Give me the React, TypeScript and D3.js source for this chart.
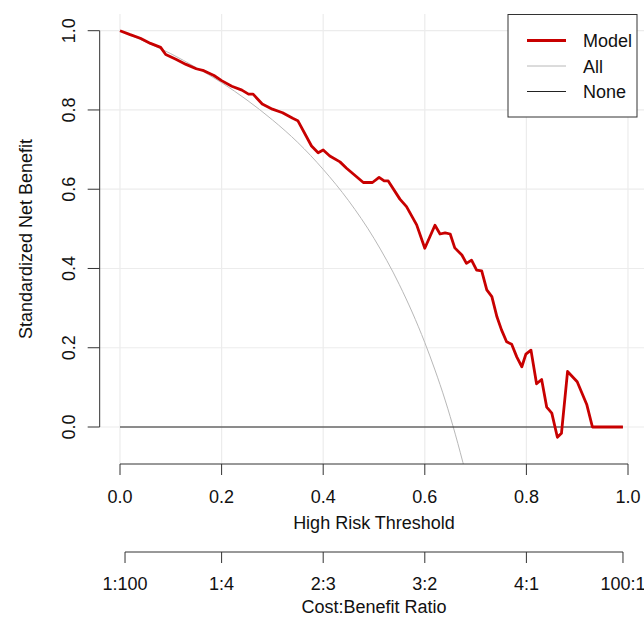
import React from "react";
import * as d3 from "d3";

// Model (standardized net benefit vs. threshold)
const modelThreshold = [
  0.0, 0.02, 0.04, 0.06, 0.08, 0.09, 0.11, 0.13, 0.15, 0.165, 0.185, 0.2, 0.22, 0.24, 0.253, 0.262,
  0.28, 0.3, 0.32, 0.34, 0.35, 0.377, 0.39, 0.4, 0.413, 0.433, 0.446, 0.479, 0.497, 0.51, 0.52,
  0.528, 0.551, 0.564, 0.584, 0.6, 0.62, 0.63, 0.64, 0.65, 0.659, 0.673, 0.682, 0.692, 0.702,
  0.712, 0.722, 0.732, 0.742, 0.751, 0.761, 0.771, 0.781, 0.791, 0.799, 0.809, 0.82, 0.83, 0.84,
  0.85, 0.861, 0.869, 0.881, 0.9, 0.919, 0.93, 0.99,
];
const modelBenefit = [
  1.0, 0.99, 0.981, 0.968, 0.958, 0.94, 0.928, 0.915, 0.904, 0.899, 0.887, 0.874, 0.86, 0.85, 0.84,
  0.84, 0.815, 0.802, 0.793, 0.779, 0.773, 0.709, 0.692, 0.699, 0.684, 0.669, 0.653, 0.617, 0.617,
  0.63, 0.621, 0.621, 0.575, 0.556, 0.51, 0.451, 0.509, 0.487, 0.49, 0.487, 0.452, 0.434, 0.413,
  0.421, 0.396, 0.394, 0.346, 0.329, 0.278, 0.245, 0.215, 0.209, 0.177, 0.152, 0.184, 0.194, 0.109,
  0.12, 0.05, 0.035, -0.026, -0.016, 0.14, 0.114, 0.056, 0.0, 0.0,
];

// "All" (treat all) curve
const allThreshold = [
  0.0, 0.05, 0.1, 0.15, 0.2, 0.25, 0.3, 0.35, 0.4, 0.45, 0.5, 0.55, 0.6, 0.62, 0.64, 0.66, 0.68,
];
const allBenefit = [
  1.0, 0.972, 0.942, 0.907, 0.869, 0.825, 0.775, 0.718, 0.65, 0.571, 0.476, 0.359, 0.213, 0.144,
  0.068, -0.018, -0.114,
];

// "None" (treat none)
const noneThreshold = [0.0, 0.99];
const noneBenefit = [0.0, 0.0];

const xTicks = [0, 0.2, 0.4, 0.6, 0.8, 1.0];
const xTickLabels = ["0.0", "0.2", "0.4", "0.6", "0.8", "1.0"];
const yTicks = [0, 0.2, 0.4, 0.6, 0.8, 1.0];
const yTickLabels = ["0.0", "0.2", "0.4", "0.6", "0.8", "1.0"];
const costTicks = [1 / 101, 0.2, 0.4, 0.6, 0.8, 100 / 101];
const costTickLabels = ["1:100", "1:4", "2:3", "3:2", "4:1", "100:1"];

const legendLabels = ["Model", "All", "None"];

const W = 644;
const H = 618;
const FONT = "'Liberation Sans', Arial, Helvetica, sans-serif";
const RED = "#c80000";
const AXIS = "#333";
const GRID = "#ececec";

export default function App() {
  const x = d3.scaleLinear().domain([0, 1]).range([120, 628]);
  const y = d3.scaleLinear().domain([0, 1]).range([427, 30.7]);
  const plotLeft = x(-0.04);
  const plotRight = x(1.04);
  const plotTop = y(1.042);
  const plotBottom = y(-0.0934);

  const line = d3
    .line<[number, number]>()
    .x((d) => x(d[0]))
    .y((d) => y(d[1]));
  const allLine = d3
    .line<[number, number]>()
    .x((d) => x(d[0]))
    .y((d) => y(d[1]))
    .curve(d3.curveMonotoneX);

  const modelPts = modelThreshold.map((t, i) => [t, modelBenefit[i]] as [number, number]);
  const allPts = allThreshold.map((t, i) => [t, allBenefit[i]] as [number, number]);
  const nonePts = noneThreshold.map((t, i) => [t, noneBenefit[i]] as [number, number]);

  const axis2Y = 552;

  const legend = { x0: 508, y0: 14.5, x1: 637, y1: 117 };
  const legendRows = [40.5, 66, 91.5];

  return (
    <svg
      width={W}
      height={H}
      viewBox={`0 0 ${W} ${H}`}
      style={{ position: "absolute", left: 0, top: 0, background: "#fff" }}
      fontFamily={FONT}
    >
      <defs>
        <clipPath id="plotClip">
          <rect x={plotLeft} y={plotTop} width={plotRight - plotLeft} height={plotBottom - plotTop} />
        </clipPath>
      </defs>
      <rect x={0} y={0} width={W} height={H} fill="#fff" />

      {/* grid */}
      <g clipPath="url(#plotClip)">
        {xTicks.map((t) => (
          <line key={"gx" + t} x1={x(t)} x2={x(t)} y1={plotTop} y2={plotBottom} stroke={GRID} strokeWidth={1.2} />
        ))}
        {yTicks.map((t) => (
          <line key={"gy" + t} x1={plotLeft} x2={plotRight} y1={y(t)} y2={y(t)} stroke={GRID} strokeWidth={1.2} />
        ))}
      </g>

      {/* series */}
      <g clipPath="url(#plotClip)">
        <path d={allLine(allPts) || ""} fill="none" stroke="#b8b8b8" strokeWidth={1} />
        <path d={line(nonePts) || ""} fill="none" stroke="#222" strokeWidth={1} />
        <path d={line(modelPts) || ""} fill="none" stroke={RED} strokeWidth={2.8} strokeLinejoin="round" />
      </g>

      {/* y axis */}
      <line x1={plotLeft} x2={plotLeft} y1={y(0)} y2={y(1)} stroke={AXIS} strokeWidth={1} />
      {yTicks.map((t, i) => (
        <g key={"yt" + t}>
          <line x1={plotLeft - 12} x2={plotLeft} y1={y(t)} y2={y(t)} stroke={AXIS} strokeWidth={1} />
          <text
            transform={`translate(75,${y(t)}) rotate(-90)`}
            textAnchor="middle"
            fontSize={18}
            fill="#111"
          >
            {yTickLabels[i]}
          </text>
        </g>
      ))}
      <text
        transform={`translate(32,${(plotTop + plotBottom) / 2}) rotate(-90)`}
        textAnchor="middle"
        fontSize={18}
        fill="#111"
      >
        Standardized Net Benefit
      </text>

      {/* x axis */}
      <line x1={x(0)} x2={x(1)} y1={plotBottom} y2={plotBottom} stroke={AXIS} strokeWidth={1} />
      {xTicks.map((t, i) => (
        <g key={"xt" + t}>
          <line x1={x(t)} x2={x(t)} y1={plotBottom} y2={plotBottom + 11} stroke={AXIS} strokeWidth={1} />
          <text x={x(t)} y={503} textAnchor="middle" fontSize={18} fill="#111">
            {xTickLabels[i]}
          </text>
        </g>
      ))}
      <text x={(plotLeft + plotRight) / 2} y={529} textAnchor="middle" fontSize={18} fill="#111">
        High Risk Threshold
      </text>

      {/* cost:benefit axis */}
      <line x1={x(costTicks[0])} x2={x(costTicks[costTicks.length - 1])} y1={axis2Y} y2={axis2Y} stroke={AXIS} strokeWidth={1} />
      {costTicks.map((t, i) => (
        <g key={"ct" + i}>
          <line x1={x(t)} x2={x(t)} y1={axis2Y} y2={axis2Y + 11} stroke={AXIS} strokeWidth={1} />
          <text x={x(t)} y={590} textAnchor="middle" fontSize={18} fill="#111">
            {costTickLabels[i]}
          </text>
        </g>
      ))}
      <text x={(plotLeft + plotRight) / 2} y={613} textAnchor="middle" fontSize={18} fill="#111">
        Cost:Benefit Ratio
      </text>

      {/* legend */}
      <rect
        x={legend.x0}
        y={legend.y0}
        width={legend.x1 - legend.x0}
        height={legend.y1 - legend.y0}
        fill="#fff"
        stroke={AXIS}
        strokeWidth={1}
      />
      {legendLabels.map((lab, i) => (
        <g key={lab}>
          <line
            x1={527}
            x2={566}
            y1={legendRows[i]}
            y2={legendRows[i]}
            stroke={i === 0 ? RED : i === 1 ? "#b8b8b8" : "#222"}
            strokeWidth={i === 0 ? 2.8 : 1}
          />
          <text x={583} y={legendRows[i] + 6.5} fontSize={18} fill="#111">
            {lab}
          </text>
        </g>
      ))}
    </svg>
  );
}
